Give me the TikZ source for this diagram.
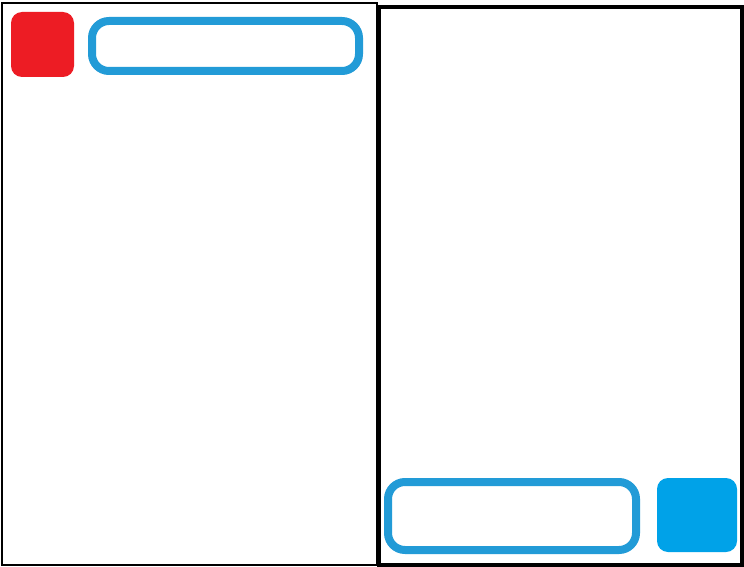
\documentclass[tikz,border=0pt]{standalone}
\definecolor{paintred}{RGB}{237,28,36}
\definecolor{paintblue}{RGB}{0,162,232}
\definecolor{outlineblue}{RGB}{34,155,215}
\begin{document}
\begin{tikzpicture}[x=1pt,y=-1pt,
  panel/.style={draw=black},
  field/.style={draw=outlineblue, line width=8pt, rounded corners=17pt},
  tile/.style={rounded corners=11pt}]
\useasboundingbox (0,0) rectangle (744,567);
\fill[white] (0,0) rectangle (744,567);
% left panel
\draw[panel, line width=2pt] (2,3) rectangle (377,565);
% right panel
\draw[panel, line width=3.5pt] (379,7) rectangle (742,565);
% top-left elements
\fill[paintred, tile] (11,12) rectangle (74,77);
\node[inner sep=0pt] (redtile) at (42.5,44.5) {};
\draw[field] (92,21) rectangle (359,71);
\node[inner sep=0pt] (topfield) at (225,46) {};
% bottom-right elements
\draw[field] (388,482) rectangle (636,550);
\node[inner sep=0pt] (bottomfield) at (512,515) {};
\fill[paintblue, tile] (657,478) rectangle (737,552);
\node[inner sep=0pt] (bluetile) at (697,515) {};
\end{tikzpicture}
\end{document}
